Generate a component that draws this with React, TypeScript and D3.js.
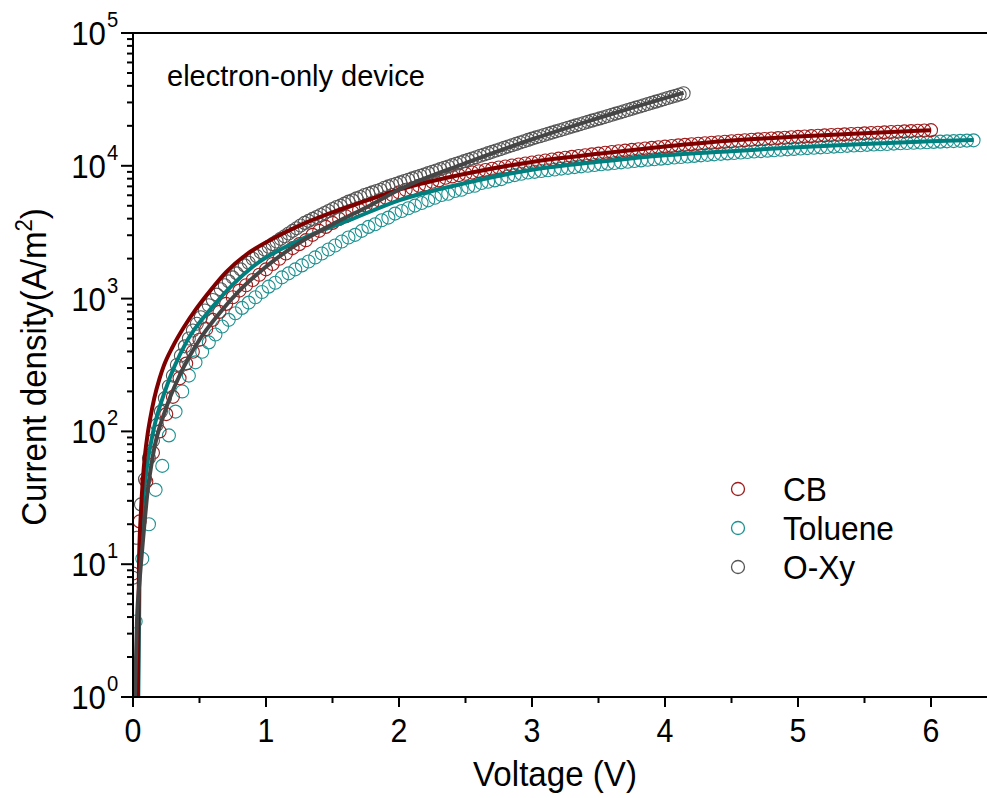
import React from "react";
import * as d3 from "d3";

// ---------- data ----------
const X_TICKS = [0, 1, 2, 3, 4, 5, 6];
const X_MINOR_TICKS = [0.5, 1.5, 2.5, 3.5, 4.5, 5.5];
const Y_TICKS = [1, 10, 100, 1000, 10000, 100000];
const Y_TICK_EXP = ["0", "1", "2", "3", "4", "5"];

const SERIES_NAMES = ["CB", "Toluene", "O-Xy"];

// CB measured points: V = 0 + i*0.05
const CB_V_START = 0;
const CB_V_STEP = 0.05;
const CB_J = [
  8.5, 21, 42, 69, 100, 135, 182, 251, 324, 398, 490, 589, 692, 794, 912, 1023, 1148, 1259, 1380, 1514,
  1660, 1820, 1995, 2188, 2399, 2570, 2754, 3020, 3236, 3467, 3715, 3981, 4169, 4467, 4677, 5012, 5248,
  5495, 5754, 6026, 6310, 6607, 6761, 7079, 7244, 7586, 7762, 8128, 8318, 8511, 8710,
  8900, 9100, 9300, 9500, 9700, 9880, 10060, 10240, 10420, 10600, 10780, 10960, 11140, 11320, 11500,
  11680, 11850, 12020, 12190, 12360, 12530, 12700, 12860, 13020, 13180, 13340, 13500, 13650, 13800, 13950,
  14100, 14240, 14380, 14520, 14660, 14800, 14930, 15060, 15190, 15320, 15450, 15570, 15690, 15810, 15930,
  16050, 16170, 16280, 16390, 16500, 16610, 16720, 16830, 16940, 17050, 17150, 17250, 17350, 17450, 17550,
  17650, 17750, 17850, 17950, 18050, 18150, 18250, 18350, 18450, 18550,
];

// Toluene measured points: V = 0.02 + i*0.05
const TOL_V_START = 0.02;
const TOL_V_STEP = 0.05;
const TOL_J = [
  3.7, 11, 20, 36.3, 55, 93.3, 141, 200, 263, 331, 398, 468, 537, 617, 692, 776, 851, 933, 1023, 1122,
  1230, 1318, 1445, 1549, 1660, 1778, 1905, 2042, 2188, 2344, 2512, 2692, 2884, 3020, 3236, 3467, 3631,
  3890, 4074, 4365, 4571, 4786, 5012, 5248, 5495, 5754, 6026, 6166, 6457, 6607, 6918, 7079, 7413, 7586,
  7762, 7943, 8318, 8511, 8710, 8913,
  9000, 9130, 9260, 9390, 9520, 9650, 9780, 9900, 10020, 10140, 10260, 10380, 10500, 10620, 10740, 10860,
  10980, 11100, 11210, 11320, 11430, 11540, 11650, 11760, 11870, 11980, 12090, 12200, 12300, 12400, 12500,
  12600, 12700, 12800, 12900, 13000, 13100, 13200, 13300, 13400, 13500, 13590, 13680, 13770, 13860, 13950,
  14040, 14130, 14210, 14290, 14370, 14450, 14530, 14610, 14690, 14770, 14850, 14920, 14990, 15060, 15130,
  15200, 15270, 15340, 15410, 15480, 15550,
];

// O-Xy measured points: V = 0 + i*0.03
const OXY_V_START = 0;
const OXY_V_STEP = 0.03;
const OXY_J = [
  7.9, 15.8, 28.2, 43.7, 63.1, 85.1, 112, 141, 178, 219, 263, 316, 372, 437, 501, 575, 646, 724, 813, 891,
  977, 1072, 1175, 1259, 1349, 1445, 1549, 1660, 1778, 1862, 1995, 2089, 2239, 2344, 2455, 2570, 2692,
  2818, 2951, 3090, 3236, 3388, 3548, 3715, 3846, 3981, 4121, 4266, 4416, 4571, 4732, 4898, 5012, 5188,
  5370, 5495, 5689, 5821, 6026, 6166, 6310, 6457, 6607, 6839, 6998, 7161, 7328, 7499, 7674, 7852, 8035,
  8222, 8414, 8610, 8810, 9016, 9226, 9441, 9661, 9886, 10120, 10350, 10590, 10840, 11090, 11350, 11610,
  11890, 12160, 12450, 12740, 13030, 13340, 13650, 13960, 14290, 14620, 14960, 15310, 15670, 16030, 16370,
  16710, 17060, 17420, 17780, 18160, 18540, 18920, 19320, 19720, 20140, 20560, 20990, 21430, 21880, 22340,
  22750, 23230, 23710, 24210, 24720, 25230, 25760, 26300, 26850, 27420, 27990, 28580, 29170, 29790, 30410,
  31050, 31700, 32360, 33040, 33730, 34440, 35160,
];

// fitted curves (solid lines)
const CB_FIT_V = [0.037, 0.04, 0.045, 0.06, 0.075, 0.09, 0.11, 0.13, 0.16, 0.2, 0.23, 0.3, 0.38, 0.48, 0.58, 0.7, 0.85, 1.05, 1.25, 1.5, 1.76, 2.0, 2.5, 3.0, 3.5, 4.0, 4.5, 5.0, 5.5, 6.0];
const CB_FIT_J = [1, 3.16, 10, 25.1, 44.7, 66.1, 95.5, 126, 178, 251, 309, 437, 603, 851, 1148, 1585, 2138, 2818, 3548, 4467, 5495, 6607, 8710, 10700, 12300, 13960, 15500, 16600, 17580, 18530];

const TOL_FIT_V = [0.04, 0.05, 0.07, 0.1, 0.15, 0.25, 0.4, 0.6, 0.9, 1.25, 1.65, 2.0, 2.5, 3.0, 3.5, 4.0, 4.5, 5.0, 5.5, 6.0, 6.32];
const TOL_FIT_J = [1, 10, 25.1, 50.1, 97.7, 214, 468, 871, 1738, 2754, 3981, 5495, 7413, 9333, 10720, 12020, 12880, 13800, 14620, 15310, 15670];

const OXY_FIT_V = [0.015, 0.03, 0.05, 0.075, 0.11, 0.15, 0.25, 0.35, 0.5, 0.65, 0.8, 1.0, 1.25, 1.5, 1.76, 2.0, 2.5, 3.0, 3.5, 4.0, 4.14];
const OXY_FIT_J = [1, 3.8, 7.6, 15.1, 35.5, 66.1, 151, 263, 490, 776, 1148, 1738, 2630, 3631, 4898, 6607, 10470, 15850, 22910, 32360, 35500];

// ---------- styles ----------
const FONT = "'Liberation Sans', Arial, Helvetica, sans-serif";
const COLORS_PT = ["#9e1c1c", "#1f9191", "#555555"];
const COLORS_LN = ["#800000", "#007f7f", "#454545"];

export default function App() {
  const W = 987;
  const H = 798;
  const left = 133, right = 987, top = 33, bottom = 697;
  const x = d3.scaleLinear().domain([0, (right - left) / 133]).range([left, right]);
  const y = d3.scaleLog().domain([1, 1e5]).range([bottom, top]);

  const pts = (start: number, step: number, js: number[]) =>
    js.map((j, i) => [start + i * step, j] as [number, number]);
  const series = [
    pts(CB_V_START, CB_V_STEP, CB_J),
    pts(TOL_V_START, TOL_V_STEP, TOL_J),
    pts(OXY_V_START, OXY_V_STEP, OXY_J),
  ];
  const fits = [
    CB_FIT_V.map((v, i) => [v, CB_FIT_J[i]] as [number, number]),
    TOL_FIT_V.map((v, i) => [v, TOL_FIT_J[i]] as [number, number]),
    OXY_FIT_V.map((v, i) => [v, OXY_FIT_J[i]] as [number, number]),
  ];
  const line = d3
    .line<[number, number]>()
    .x((d) => x(d[0]))
    .y((d) => y(d[1]))
    .curve(d3.curveMonotoneX);

  const yMinor: number[] = [];
  for (let e = 0; e < 5; e++) for (let k = 2; k <= 9; k++) yMinor.push(k * Math.pow(10, e));

  const SX = 0.92;

  return (
    <svg width={W} height={H} style={{ position: "absolute", left: 0, top: 0, background: "#fff" }} fontFamily={FONT}>
      <defs>
        <clipPath id="plotclip">
          <rect x={left} y={top} width={right - left} height={bottom - top} />
        </clipPath>
      </defs>
      <rect x={0} y={0} width={W} height={H} fill="#fff" />

      {/* data points */}
      <g clipPath="url(#plotclip)">
        {[1, 0, 2].map((si) => (
          <g key={"p" + si}>
            {series[si].map((d, i) => (
              <circle key={i} cx={x(d[0])} cy={y(d[1])} r={6.5} fill="none" stroke={COLORS_PT[si]} strokeWidth={1.1} />
            ))}
          </g>
        ))}
        {[1, 0, 2].map((si) => (
          <path key={"l" + si} d={line(fits[si]) || ""} fill="none" stroke={COLORS_LN[si]} strokeWidth={4} strokeLinejoin="round" />
        ))}
      </g>

      {/* axes */}
      <g stroke="#000" strokeWidth={2} fill="none">
        <line x1={left} y1={top} x2={left} y2={bottom + 10} />
        <line x1={left - 12} y1={bottom} x2={right} y2={bottom} />
        <line x1={left - 12} y1={top} x2={right} y2={top} />
        {X_TICKS.map((t) => (
          <line key={"xt" + t} x1={x(t)} x2={x(t)} y1={bottom} y2={bottom + 10} />
        ))}
        {X_MINOR_TICKS.map((t) => (
          <line key={"xm" + t} x1={x(t)} x2={x(t)} y1={bottom} y2={bottom + 6} />
        ))}
        {Y_TICKS.map((t) => (
          <line key={"yt" + t} x1={left - 12} x2={left} y1={y(t)} y2={y(t)} />
        ))}
        {yMinor.map((t) => (
          <line key={"ym" + t} x1={left - 6} x2={left} y1={y(t)} y2={y(t)} />
        ))}
      </g>

      {/* tick labels */}
      {X_TICKS.map((t) => (
        <text key={"xl" + t} transform={`translate(${x(t)},742) scale(${SX},1)`} fontSize={33} textAnchor="middle" fill="#000">
          {t}
        </text>
      ))}
      {Y_TICKS.map((t, i) => (
        <g key={"yl" + t}>
          <text transform={`translate(106,${y(t) + 12}) scale(${SX},1)`} fontSize={34} textAnchor="end" fill="#000">
            10
          </text>
          <text transform={`translate(107,${y(t) - 6}) scale(${SX},1)`} fontSize={22} textAnchor="start" fill="#000">
            {Y_TICK_EXP[i]}
          </text>
        </g>
      ))}

      {/* axis titles */}
      <text transform={`translate(555,786) scale(${SX},1)`} fontSize={36} textAnchor="middle" fill="#000">
        Voltage (V)
      </text>
      <text transform={`translate(46,367) rotate(-90) scale(${SX},1)`} fontSize={36} textAnchor="middle" fill="#000">
        Current density(A/m
        <tspan fontSize={24} dy={-14}>2</tspan>
        <tspan dy={14}>)</tspan>
      </text>

      {/* annotation */}
      <text x={167} y={86} fontSize={29} fill="#000">
        electron-only device
      </text>

      {/* legend */}
      {SERIES_NAMES.map((name, i) => (
        <g key={name}>
          <circle cx={738} cy={489 + i * 39} r={6.5} fill="none" stroke={COLORS_PT[i]} strokeWidth={1.3} />
          <text transform={`translate(783,${489 + i * 39 + 12}) scale(0.96,1)`} fontSize={33} fill="#000">
            {name}
          </text>
        </g>
      ))}
    </svg>
  );
}
